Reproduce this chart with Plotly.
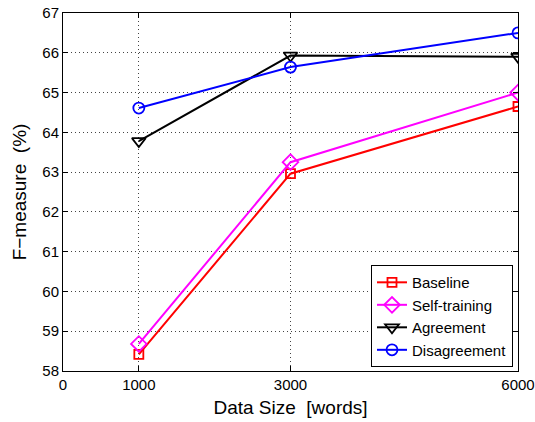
import plotly.graph_objects as go

x_vals = [1000, 3000, 6000]
baseline = [58.42, 62.96, 64.65]
self_training = [58.68, 63.25, 65.0]
agreement = [63.78, 65.93, 65.90]
disagreement = [64.61, 65.64, 66.50]

x_ticks = [0, 1000, 3000, 6000]
y_ticks = list(range(58, 68))

series = [
    ("Baseline", baseline, "#ff0000", "square-open", 9),
    ("Self-training", self_training, "#ff00ff", "diamond-open", 12),
    ("Agreement", agreement, "#000000", "triangle-down-open", 12),
    ("Disagreement", disagreement, "#0000ff", "circle-open", 11),
]

FONT = "Liberation Sans, Arial, sans-serif"

fig = go.Figure()
for name, vals, color, sym, size in series:
    fig.add_trace(go.Scatter(
        x=x_vals, y=vals, name=name, mode="lines+markers",
        line=dict(color=color, width=2),
        marker=dict(symbol=sym, size=size, color=color, line=dict(width=1.8, color=color)),
    ))

axis_common = dict(
    showline=True, linecolor="#000000", linewidth=1, mirror="ticks",
    ticks="inside", ticklen=5, tickcolor="#000000",
    showgrid=True, gridcolor="#444444", griddash="1px,3px", gridwidth=1,
    zeroline=False, automargin=False,
    tickfont=dict(family=FONT, size=15, color="#000000"),
)

fig.update_xaxes(
    range=[0, 6000], tickvals=x_ticks, ticktext=[str(v) for v in x_ticks],
    title=dict(text="Data Size  [words]", font=dict(family=FONT, size=19, color="#000000"), standoff=8),
    **axis_common,
)
fig.update_yaxes(
    range=[58, 67], tickvals=y_ticks, ticktext=[str(v) for v in y_ticks],
    title=dict(text="F\u2212measure  (%)", font=dict(family=FONT, size=19, color="#000000"), standoff=10),
    **axis_common,
)

fig.update_layout(
    width=535, height=422,
    margin=dict(l=63, r=17, t=13, b=51),
    paper_bgcolor="#ffffff", plot_bgcolor="#ffffff",
    font=dict(family=FONT, color="#000000"),
    legend=dict(
        x=0.989, y=0.011, xanchor="right", yanchor="bottom",
        bgcolor="#ffffff", bordercolor="#000000", borderwidth=1,
        font=dict(family=FONT, size=15, color="#000000"),
        tracegroupgap=0, itemwidth=30,
    ),
)

fig.write_html("out.html")
